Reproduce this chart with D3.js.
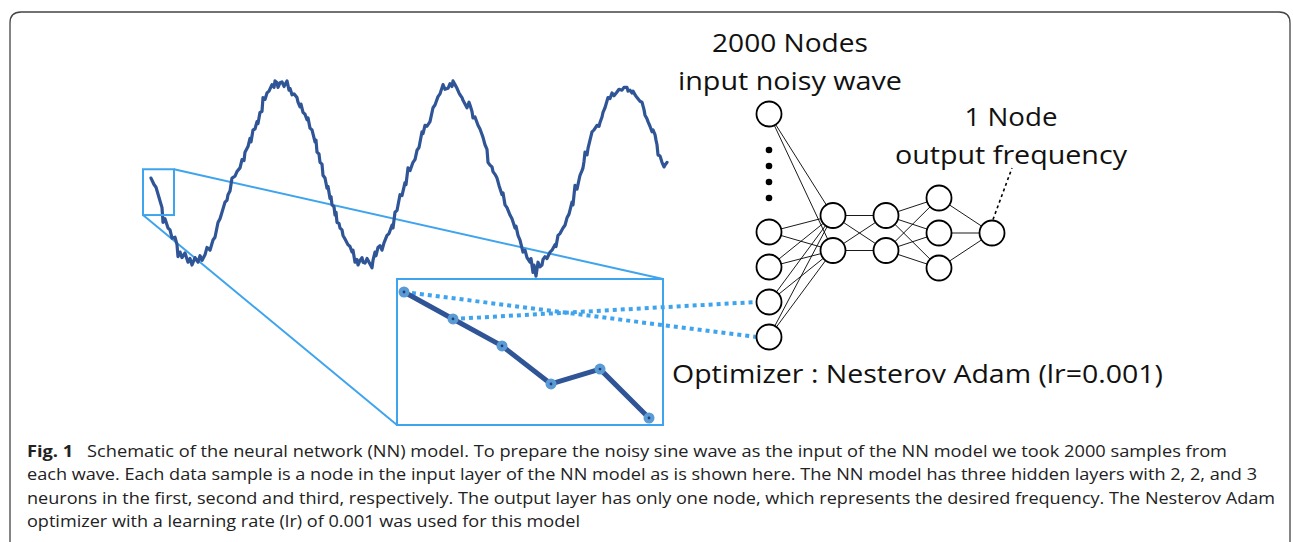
<!DOCTYPE html>
<html>
<head>
<meta charset="utf-8">
<script src="https://cdn.jsdelivr.net/npm/d3@7"></script>
<style>
  html, body { margin: 0; padding: 0; background: #fff; }
  svg { display: block; }
  text { font-family: "Open Sans", "Noto Sans", sans-serif; }
</style>
</head>
<body>
<svg id="chart" width="1293" height="542"></svg>
<script>
// ---------- DATA ----------
// noisy sine wave: sample positions and amplitudes
const waveSamples = [1,4,6,9,12,13,15,18,20,22,25,27,28,30,32,35,38,40,42,45,48,50,52,55,57,60,63,65,68,70,72,75,77,78,80,82,85,87,90,92,94,95,98,100,101,103,105,107,108,110,112,113,115,117,119,122,124,125,127,128,130,132,134,137,139,140,142,144,147,148,150,151,153,155,157,158,160,162,165,166,167,169,170,172,173,175,177,178,180,181,182,184,185,186,187,189,190,192,193,195,198,200,202,203,205,207,208,210,212,213,215,217,218,220,222,223,225,226,228,230,232,234,237,239,242,243,245,247,250,252,255,256,258,260,263,265,267,269,272,273,275,277,280,281,283,285,288,290,293,295,298,300,302,303,305,307,309,310,312,313,315,317,319,320,322,323,325,328,330,332,333,335,337,338,340,342,343,345,347,349,352,353,355,357,360,362,365,366,368,370,373,375,377,380,381,383,384,386,388,390,392,393,395,397,400,402,405,406,408,410,413,415,417,419,422,423,425,427,430,432,433,434,435,437,438,440,442,444,447,449,450,452,453,455,458,460,462,464,467,469,472,474,477,478,480,482,483,485,487,490,492,494,495,497,498,500,502,503,505,506,507,508,510,512,514,515,517];
const waveValues = [-0.06,-0.13,-0.16,-0.27,-0.38,-0.54,-0.50,-0.60,-0.62,-0.71,-0.70,-0.78,-0.91,-0.86,-0.92,-0.87,-0.97,-0.93,-1.00,-0.92,-0.97,-0.90,-0.95,-0.89,-0.81,-0.84,-0.73,-0.70,-0.54,-0.50,-0.43,-0.32,-0.30,-0.24,-0.20,-0.06,-0.04,0.01,0.05,0.14,0.13,0.22,0.28,0.37,0.33,0.46,0.47,0.55,0.53,0.65,0.66,0.81,0.79,0.86,0.88,0.95,0.92,0.99,0.97,0.92,0.97,0.98,0.93,0.99,0.89,0.91,0.84,0.85,0.81,0.76,0.71,0.74,0.65,0.63,0.57,0.59,0.48,0.46,0.33,0.35,0.22,0.20,0.11,0.09,-0.03,-0.06,-0.17,-0.15,-0.28,-0.26,-0.35,-0.37,-0.46,-0.43,-0.54,-0.55,-0.60,-0.62,-0.68,-0.72,-0.78,-0.80,-0.86,-0.84,-0.97,-0.94,-1.00,-0.95,-0.92,-0.97,-0.98,-0.93,-0.95,-0.99,-1.03,-0.95,-0.86,-0.90,-0.81,-0.79,-0.84,-0.76,-0.68,-0.66,-0.57,-0.60,-0.43,-0.41,-0.24,-0.25,-0.11,-0.13,0.05,0.02,0.11,0.14,0.24,0.27,0.44,0.42,0.51,0.50,0.55,0.60,0.70,0.73,0.82,0.85,0.95,0.90,0.91,0.96,0.93,0.99,0.95,0.91,0.86,0.84,0.81,0.78,0.74,0.70,0.76,0.73,0.66,0.59,0.60,0.51,0.47,0.41,0.38,0.30,0.25,0.11,0.08,0.06,0.01,-0.02,-0.06,-0.14,-0.24,-0.22,-0.35,-0.38,-0.46,-0.50,-0.60,-0.58,-0.68,-0.73,-0.86,-0.84,-0.92,-0.97,-0.93,-1.08,-1.00,-1.12,-0.97,-1.02,-1.00,-0.94,-0.91,-0.93,-0.86,-0.84,-0.78,-0.80,-0.68,-0.66,-0.60,-0.57,-0.49,-0.45,-0.32,-0.35,-0.14,-0.18,-0.03,0.02,0.05,0.12,0.22,0.19,0.26,0.35,0.44,0.46,0.51,0.50,0.54,0.60,0.65,0.70,0.81,0.80,0.86,0.83,0.87,0.90,0.89,0.92,0.92,0.88,0.89,0.86,0.88,0.84,0.81,0.77,0.76,0.68,0.62,0.58,0.55,0.50,0.44,0.46,0.41,0.35,0.30,0.19,0.18,0.11,0.06,0.08,0.11];
// zoomed-in window of the wave (6 samples)
const insetIndex = [0,1,2,3,4,5];
const insetValues = [-0.05,-0.157,-0.264,-0.415,-0.356,-0.55];
// network
const hiddenLayers = ["h1","h2","h3","out"];
const hiddenSizes = [2,2,3,1];
const inputShownBottom = 4;   // visible lower input nodes
const inputDots = 4;
const labels = {
  inTop: "2000 Nodes", inBottom: "input noisy wave",
  outTop: "1 Node", outBottom: "output frequency",
  optimizer: "Optimizer : Nesterov Adam (lr=0.001)"
};
const captionBold = "Fig. 1";
const captionLines = [
  "Schematic of the neural network (NN) model. To prepare the noisy sine wave as the input of the NN model we took 2000 samples from",
  "each wave. Each data sample is a node in the input layer of the NN model as is shown here. The NN model has three hidden layers with 2, 2, and 3",
  "neurons in the first, second and third, respectively. The output layer has only one node, which represents the desired frequency. The Nesterov Adam",
  "optimizer with a learning rate (lr) of 0.001 was used for this model"
];

// ---------- DRAW ----------
const svg = d3.select("#chart");
const DARK = "#2f5597", LIGHT = "#3fa4ee", MARK = "#5b9bd5";

// frame
svg.append("path")
  .attr("d", "M10,560 L10,23 Q10,12 21,12 L1279,12 Q1290,12 1290,23 L1290,560")
  .attr("fill", "none").attr("stroke", "#444").attr("stroke-width", 1.3);

// wave scales
const xw = d3.scaleLinear().domain([0, 515]).range([150, 665]);
const yw = d3.scaleLinear().domain([-1, 1]).range([265, 80]);
const wave = waveSamples.map((s, i) => [s, waveValues[i]]);

// zoom box on the wave (around the first samples)
const zb = {x0: xw(-7), x1: xw(24), y0: yw(0.035), y1: yw(-0.46)};
// inset box
const ib = {x0: 397, x1: 663, y0: 279, y1: 425};

// connector lines
svg.append("line").attr("x1", zb.x1).attr("y1", zb.y0).attr("x2", ib.x1).attr("y2", ib.y0)
  .attr("stroke", LIGHT).attr("stroke-width", 2);
svg.append("line").attr("x1", zb.x0).attr("y1", zb.y1).attr("x2", ib.x0).attr("y2", ib.y1)
  .attr("stroke", LIGHT).attr("stroke-width", 2);

// wave line
svg.append("path").datum(wave)
  .attr("d", d3.line().x(d => xw(d[0])).y(d => yw(d[1])))
  .attr("fill", "none").attr("stroke", DARK).attr("stroke-width", 3.2)
  .attr("stroke-linejoin", "round").attr("stroke-linecap", "round");

// small zoom rectangle
svg.append("rect").attr("x", zb.x0).attr("y", zb.y0).attr("width", zb.x1 - zb.x0).attr("height", zb.y1 - zb.y0)
  .attr("fill", "none").attr("stroke", LIGHT).attr("stroke-width", 2);

// inset rectangle
svg.append("rect").attr("x", ib.x0).attr("y", ib.y0).attr("width", ib.x1 - ib.x0).attr("height", ib.y1 - ib.y0)
  .attr("fill", "#fff").attr("stroke", LIGHT).attr("stroke-width", 2);

const xi = d3.scaleLinear().domain([0, 5]).range([404, 649]);
const yi = d3.scaleLinear().domain([-0.05, -0.55]).range([292, 418]);

// network geometry
const xL = d3.scalePoint().domain(hiddenLayers).range([833, 992]);
const inX = 769;
const R = 12.5, GAP = 35, CY = 233;
const inputNodes = [{x: inX, y: 114}];
for (let i = 0; i < inputShownBottom; i++) inputNodes.push({x: inX, y: 232 + i * GAP});
const layers = hiddenLayers.map((l, li) => {
  const n = hiddenSizes[li];
  return d3.range(n).map(j => ({x: xL(l), y: CY + (j - (n - 1) / 2) * GAP}));
});

// dotted links from inset points to input nodes
const dotted = [[0, 4], [1, 3]];
dotted.forEach(([pi, ni]) => {
  svg.append("line")
    .attr("x1", xi(insetIndex[pi])).attr("y1", yi(insetValues[pi]))
    .attr("x2", inputNodes[ni].x - R).attr("y2", inputNodes[ni].y)
    .attr("stroke", LIGHT).attr("stroke-width", 4).attr("stroke-dasharray", "4,4");
});

// inset line and markers
svg.append("path").datum(insetIndex)
  .attr("d", d3.line().x(i => xi(i)).y(i => yi(insetValues[i])))
  .attr("fill", "none").attr("stroke", DARK).attr("stroke-width", 5).attr("stroke-linejoin", "round");
svg.selectAll(".imk").data(insetIndex).join("circle")
  .attr("cx", i => xi(i)).attr("cy", i => yi(insetValues[i])).attr("r", 5.5).attr("fill", MARK);
svg.selectAll(".imd").data(insetIndex).join("circle")
  .attr("cx", i => xi(i)).attr("cy", i => yi(insetValues[i])).attr("r", 1.4).attr("fill", "#1f3f7a");

// network edges
const edges = [];
inputNodes.forEach(a => layers[0].forEach(b => edges.push([a, b])));
for (let l = 0; l < layers.length - 1; l++)
  layers[l].forEach(a => layers[l + 1].forEach(b => edges.push([a, b])));
svg.selectAll(".edge").data(edges).join("line")
  .attr("x1", d => d[0].x).attr("y1", d => d[0].y).attr("x2", d => d[1].x).attr("y2", d => d[1].y)
  .attr("stroke", "#000").attr("stroke-width", 0.9);

// nodes
const allNodes = inputNodes.concat(...layers);
svg.selectAll(".node").data(allNodes).join("circle")
  .attr("cx", d => d.x).attr("cy", d => d.y).attr("r", R)
  .attr("fill", "#fff").attr("stroke", "#000").attr("stroke-width", 1.8);

// ellipsis dots
svg.selectAll(".edot").data(d3.range(inputDots)).join("circle")
  .attr("cx", inX).attr("cy", i => 150 + i * 16).attr("r", 3.3).attr("fill", "#000");

// dashed pointer from output node
const outNode = layers[layers.length - 1][0];
svg.append("line")
  .attr("x1", outNode.x + 1).attr("y1", outNode.y - R - 1)
  .attr("x2", outNode.x + 20).attr("y2", 168)
  .attr("stroke", "#000").attr("stroke-width", 1.6).attr("stroke-dasharray", "3,3");

// labels
const txt = (s, x, y, anchor, len) => {
  const t = svg.append("text").attr("x", x).attr("y", y).attr("text-anchor", anchor)
    .attr("font-size", 25).attr("fill", "#111").text(s);
  if (len) t.attr("textLength", len).attr("lengthAdjust", "spacingAndGlyphs");
  return t;
};
txt(labels.inTop, 790, 52, "middle", 156);
txt(labels.inBottom, 790, 90, "middle", 224);
txt(labels.outTop, 1011, 126, "middle", 93);
txt(labels.outBottom, 1011, 164, "middle", 232);
txt(labels.optimizer, 672, 383, "start", 491);

// caption
const capBase = [457, 480, 504, 527];
const capLen = [1200, 1230, 1248, 553];
captionLines.forEach((line, i) => {
  const t = svg.append("text").attr("x", 27).attr("y", capBase[i])
    .attr("font-size", 16.5).attr("fill", "#222")
    .attr("textLength", capLen[i]).attr("lengthAdjust", "spacingAndGlyphs");
  if (i === 0) {
    t.append("tspan").attr("font-weight", "bold").text(captionBold);
    t.append("tspan").text("\u2002 " + line);
  } else {
    t.text(line);
  }
});
</script>
</body>
</html>
